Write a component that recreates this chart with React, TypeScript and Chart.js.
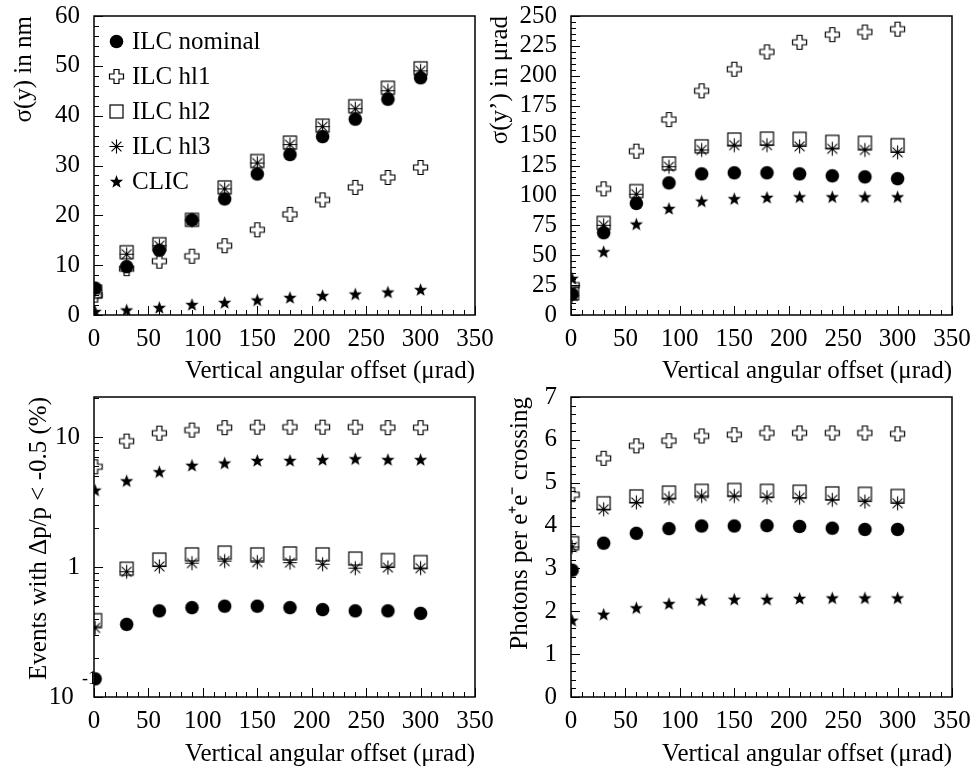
import React, { useEffect, useRef } from "react";
import { Chart, registerables } from "chart.js";
Chart.register(...registerables);

const FONT = "'Liberation Serif', 'Times New Roman', serif";
const FS = 25;

// ---------------- DATA ----------------
const offsets = [1, 30, 60, 90, 120, 150, 180, 210, 240, 270, 300];
const seriesNames = ["ILC nominal", "ILC hl1", "ILC hl2", "ILC hl3", "CLIC"];

// sigma(y) in nm
const sigY_nominal = [5.4, 9.7, 13.0, 19.1, 23.3, 28.3, 32.2, 35.8, 39.3, 43.3, 47.6];
const sigY_hl1 = [4.0, 9.3, 10.8, 11.8, 13.9, 17.1, 20.2, 23.1, 25.6, 27.6, 29.6];
const sigY_hl2 = [4.7, 12.6, 14.2, 19.1, 25.6, 30.9, 34.6, 38.0, 41.9, 45.6, 49.5];
const sigY_hl3 = [5.0, 12.2, 13.9, 19.0, 25.3, 30.5, 34.2, 37.8, 41.4, 45.0, 49.0];
const sigY_clic = [0.7, 1.0, 1.5, 2.1, 2.5, 3.0, 3.5, 3.9, 4.2, 4.6, 5.1];

// sigma(y') in urad
const sigYp_nominal = [17.5, 68.8, 93.3, 110.5, 118.0, 118.9, 118.9, 118.0, 116.4, 115.5, 114.0];
const sigYp_hl1 = [25.0, 105.5, 137.0, 163.4, 187.4, 205.5, 220.0, 228.0, 234.4, 236.6, 239.0];
const sigYp_hl2 = [18.0, 77.0, 103.6, 126.7, 141.0, 146.7, 147.5, 147.3, 144.8, 144.0, 142.0];
const sigYp_hl3 = [16.0, 75.0, 101.0, 124.0, 138.0, 142.0, 142.0, 141.0, 139.0, 138.0, 136.0];
const sigYp_clic = [30.6, 52.9, 76.0, 89.0, 95.2, 97.2, 98.3, 98.8, 98.8, 98.8, 98.8];

// Events with dp/p < -0.5 (%)
const events_nominal = [0.138, 0.362, 0.46, 0.487, 0.5, 0.5, 0.487, 0.47, 0.46, 0.46, 0.44];
const events_hl1 = [5.9, 9.3, 10.7, 11.3, 11.8, 11.9, 11.9, 11.9, 11.9, 11.8, 11.8];
const events_hl2 = [0.39, 0.97, 1.14, 1.25, 1.29, 1.25, 1.27, 1.25, 1.16, 1.13, 1.09];
const events_hl3 = [0.34, 0.92, 1.01, 1.07, 1.11, 1.09, 1.08, 1.05, 0.98, 0.99, 0.98];
const events_clic = [3.9, 4.6, 5.4, 6.05, 6.3, 6.6, 6.6, 6.7, 6.8, 6.7, 6.7];

// Photons per e+e- crossing
const photons_nominal = [2.96, 3.59, 3.82, 3.93, 3.99, 3.99, 4.0, 3.98, 3.94, 3.91, 3.91];
const photons_hl1 = [4.72, 5.57, 5.86, 5.98, 6.09, 6.12, 6.16, 6.16, 6.16, 6.16, 6.14];
const photons_hl2 = [3.59, 4.52, 4.68, 4.77, 4.81, 4.83, 4.81, 4.79, 4.75, 4.74, 4.69];
const photons_hl3 = [3.5, 4.38, 4.54, 4.64, 4.69, 4.69, 4.66, 4.65, 4.6, 4.56, 4.52];
const photons_clic = [1.79, 1.93, 2.08, 2.18, 2.26, 2.28, 2.28, 2.3, 2.31, 2.31, 2.31];

const xTitle = "Vertical angular offset (\u03bcrad)";
const xTicks = { min: 0, max: 350, step: 50, minor: 10 };

// ---------------- MARKERS ----------------
function makeMarker(kind: string): HTMLCanvasElement {
  const s = 17;
  const c = document.createElement("canvas");
  c.width = s;
  c.height = s;
  const g = c.getContext("2d")!;
  const m = s / 2;
  g.strokeStyle = "#000";
  g.fillStyle = "#000";
  g.lineWidth = 1.2;
  if (kind === "circle") {
    g.beginPath();
    g.arc(m, m, 6.8, 0, Math.PI * 2);
    g.fill();
  } else if (kind === "cross") {
    const a = 7, b = 2.5;
    g.beginPath();
    g.moveTo(m - b, m - a);
    g.lineTo(m + b, m - a);
    g.lineTo(m + b, m - b);
    g.lineTo(m + a, m - b);
    g.lineTo(m + a, m + b);
    g.lineTo(m + b, m + b);
    g.lineTo(m + b, m + a);
    g.lineTo(m - b, m + a);
    g.lineTo(m - b, m + b);
    g.lineTo(m - a, m + b);
    g.lineTo(m - a, m - b);
    g.lineTo(m - b, m - b);
    g.closePath();
    g.stroke();
  } else if (kind === "square") {
    g.strokeRect(m - 6.5, m - 6.5, 13, 13);
  } else if (kind === "asterisk") {
    g.lineWidth = 1.1;
    g.beginPath();
    for (let i = 0; i < 4; i++) {
      const ang = (i * Math.PI) / 4;
      const r = 7;
      g.moveTo(m - r * Math.cos(ang), m - r * Math.sin(ang));
      g.lineTo(m + r * Math.cos(ang), m + r * Math.sin(ang));
    }
    g.stroke();
  } else if (kind === "star") {
    g.beginPath();
    for (let i = 0; i < 10; i++) {
      const r = i % 2 === 0 ? 7 : 2.9;
      const ang = -Math.PI / 2 + (i * Math.PI) / 5;
      const px = m + r * Math.cos(ang);
      const py = m + 0.5 + r * Math.sin(ang);
      if (i === 0) g.moveTo(px, py);
      else g.lineTo(px, py);
    }
    g.closePath();
    g.fill();
  }
  return c;
}

const markerKinds = ["circle", "cross", "square", "asterisk", "star"];
const drawOrder = [2, 5, 4, 3, 1];

// ---------------- PLUGIN ----------------
const framePlugin = {
  id: "frame",
  beforeDatasetsDraw(chart: any, _a: any, opts: any) {
    if (!opts || !opts.expLabel) return;
    const ys = chart.scales.y;
    const ctx = chart.ctx;
    const y = ys.getPixelForValue(opts.expLabel.value) - 18;
    ctx.save();
    ctx.font = `18px ${FONT}`;
    ctx.fillStyle = "#000";
    ctx.textAlign = "right";
    ctx.textBaseline = "middle";
    ctx.fillText(opts.expLabel.text, chart.chartArea.left + 3, y);
    ctx.restore();
  },
  afterDraw(chart: any, _a: any, opts: any) {
    const ctx = chart.ctx;
    const ca = chart.chartArea;
    const xs = chart.scales.x;
    const ys = chart.scales.y;
    ctx.save();
    ctx.strokeStyle = "#000";
    ctx.lineWidth = 1;
    ctx.beginPath();
    // x ticks
    const nx = Math.round((xs.max - xs.min) / opts.xMinor);
    for (let i = 0; i <= nx; i++) {
      const v = xs.min + i * opts.xMinor;
      const p = Math.round(xs.getPixelForValue(v)) + 0.5;
      const r = v / opts.xMajor;
      const len = Math.abs(r - Math.round(r)) < 1e-6 ? 9 : 5;
      ctx.moveTo(p, ca.bottom);
      ctx.lineTo(p, ca.bottom - len);
    }
    // y ticks
    if (opts.log) {
      for (let d = opts.logStart; d <= ys.max * 1.0001; d *= 10) {
        for (let k = 1; k <= 9; k++) {
          const v = k * d;
          if (v < ys.min * 0.9999 || v > ys.max * 1.0001) continue;
          const p = Math.round(ys.getPixelForValue(v)) + 0.5;
          const len = k === 1 ? 9 : 5;
          ctx.moveTo(ca.left, p);
          ctx.lineTo(ca.left + len, p);
        }
      }
    } else {
      const ny = Math.round((ys.max - ys.min) / opts.yMinor);
      for (let i = 0; i <= ny; i++) {
        const v = ys.min + i * opts.yMinor;
        const p = Math.round(ys.getPixelForValue(v)) + 0.5;
        const r = v / opts.yMajor;
        const len = Math.abs(r - Math.round(r)) < 1e-6 ? 9 : 5;
        ctx.moveTo(ca.left, p);
        ctx.lineTo(ca.left + len, p);
      }
    }
    ctx.stroke();
    ctx.lineWidth = 1.5;
    ctx.strokeRect(ca.left, ca.top, ca.right - ca.left, ca.bottom - ca.top);

    // legend
    if (opts.legend) {
      ctx.font = `${FS}px ${FONT}`;
      ctx.fillStyle = "#000";
      ctx.textAlign = "left";
      ctx.textBaseline = "middle";
      chart.data.datasets.forEach((ds: any, i: number) => {
        const y = ca.top + 25 + i * 35;
        const img = ds.pointStyle as HTMLCanvasElement;
        ctx.drawImage(img, Math.round(ca.left + 22 - img.width / 2), Math.round(y - img.height / 2));
        ctx.fillText(ds.label, ca.left + 38, y + 1);
      });
    }
    ctx.restore();
  },
};

// ---------------- PANEL ----------------
interface PanelCfg {
  left: number;
  top: number;
  width: number;
  height: number;
  padTop: number;
  padRight: number;
  yWidth: number;
  xHeight: number;
  yTitle: string;
  yTitlePad: number;
  yType: "linear" | "logarithmic";
  yMin: number;
  yMax: number;
  yStep?: number;
  yMinor?: number;
  series: number[][];
  legend?: boolean;
  logLabels?: Record<string, string>;
  expLabel?: { value: number; text: string };
}

function Panel({ cfg }: { cfg: PanelCfg }) {
  const ref = useRef<HTMLCanvasElement>(null);
  useEffect(() => {
    const markers = markerKinds.map((k) => makeMarker(k));
    const datasets = cfg.series.map((vals, si) => ({
      label: seriesNames[si],
      data: offsets.map((x, i) => ({ x, y: vals[i] })),
      pointStyle: markers[si],
      pointRadius: 7,
      showLine: false,
      order: drawOrder[si],
      clip: 0,
      backgroundColor: "#000",
      borderColor: "#000",
    }));
    const tickFont = { family: FONT, size: FS };
    const yTicks: any = {
      color: "#000",
      font: tickFont,
      padding: 14,
      autoSkip: false,
    };
    if (cfg.yType === "linear") {
      yTicks.stepSize = cfg.yStep;
    } else {
      yTicks.callback = (v: number) => {
        const key = String(Number(v.toPrecision(6)));
        return cfg.logLabels && key in cfg.logLabels ? cfg.logLabels[key] : "";
      };
    }
    const chart = new Chart(ref.current!, {
      type: "scatter",
      data: { datasets } as any,
      plugins: [framePlugin as any],
      options: {
        animation: false,
        responsive: false,
        devicePixelRatio: 1,
        layout: { padding: { top: cfg.padTop, right: cfg.padRight, left: 0, bottom: 0 } },
        plugins: {
          legend: { display: false },
          tooltip: { enabled: false },
          frame: {
            xMajor: xTicks.step,
            xMinor: xTicks.minor,
            yMajor: cfg.yStep,
            yMinor: cfg.yMinor,
            log: cfg.yType === "logarithmic",
            logStart: cfg.yMin,
            legend: !!cfg.legend,
            expLabel: cfg.expLabel,
          },
        } as any,
        scales: {
          x: {
            type: "linear",
            min: xTicks.min,
            max: xTicks.max,
            grid: { display: false, drawTicks: false },
            border: { display: false },
            ticks: { stepSize: xTicks.step, color: "#000", font: tickFont, padding: 9, autoSkip: false, maxRotation: 0 },
            title: {
              display: true,
              text: xTitle,
              align: "end",
              color: "#000",
              font: { family: FONT, size: FS },
              padding: { top: 0, bottom: 0 },
            },
            afterFit: (s: any) => {
              s.height = cfg.xHeight;
              s.paddingLeft = 0;
              s.paddingRight = 0;
            },
          },
          y: {
            type: cfg.yType,
            min: cfg.yMin,
            max: cfg.yMax,
            grid: { display: false, drawTicks: false },
            border: { display: false },
            ticks: yTicks,
            title: {
              display: true,
              text: cfg.yTitle,
              align: "end",
              color: "#000",
              font: { family: FONT, size: FS },
              padding: { top: cfg.yTitlePad, bottom: 0 },
            },
            afterFit: (s: any) => {
              s.width = cfg.yWidth;
              s.paddingTop = 0;
              s.paddingBottom = 0;
            },
          } as any,
        },
      } as any,
    });
    return () => chart.destroy();
  }, [cfg]);
  return (
    <canvas
      ref={ref}
      width={cfg.width}
      height={cfg.height}
      style={{ position: "absolute", left: cfg.left, top: cfg.top, width: cfg.width, height: cfg.height }}
    />
  );
}

const panels: PanelCfg[] = [
  {
    left: 0, top: 0, width: 500, height: 386, padTop: 16, padRight: 25, yWidth: 94, xHeight: 71,
    yTitle: "\u03c3(y) in nm", yTitlePad: 9, yType: "linear", yMin: 0, yMax: 60, yStep: 10, yMinor: 2,
    series: [sigY_nominal, sigY_hl1, sigY_hl2, sigY_hl3, sigY_clic], legend: true,
  },
  {
    left: 485, top: 0, width: 489, height: 386, padTop: 16, padRight: 22, yWidth: 86, xHeight: 71,
    yTitle: "\u03c3(y\u2019) in \u03bcrad", yTitlePad: 0, yType: "linear", yMin: 0, yMax: 250, yStep: 25, yMinor: 5,
    series: [sigYp_nominal, sigYp_hl1, sigYp_hl2, sigYp_hl3, sigYp_clic],
  },
  {
    left: 0, top: 380, width: 500, height: 389, padTop: 17, padRight: 25, yWidth: 94, xHeight: 72,
    yTitle: "Events with \u0394p/p < -0.5 (%)", yTitlePad: 24, yType: "logarithmic", yMin: 0.1, yMax: 20.3,
    series: [events_nominal, events_hl1, events_hl2, events_hl3, events_clic],
    logLabels: { "0.1": "10 ", "1": "1", "10": "10" },
    expLabel: { value: 0.1, text: "-1" },
  },
  {
    left: 485, top: 380, width: 489, height: 389, padTop: 17, padRight: 22, yWidth: 86, xHeight: 72,
    yTitle: "Photons per e\u207ae\u207b crossing", yTitlePad: 20, yType: "linear", yMin: 0, yMax: 7, yStep: 1, yMinor: 0.2,
    series: [photons_nominal, photons_hl1, photons_hl2, photons_hl3, photons_clic],
  },
];

export default function App() {
  return (
    <div style={{ position: "absolute", left: 0, top: 0, width: 974, height: 769, background: "#fff" }}>
      {panels.map((p, i) => (
        <Panel key={i} cfg={p} />
      ))}
    </div>
  );
}
